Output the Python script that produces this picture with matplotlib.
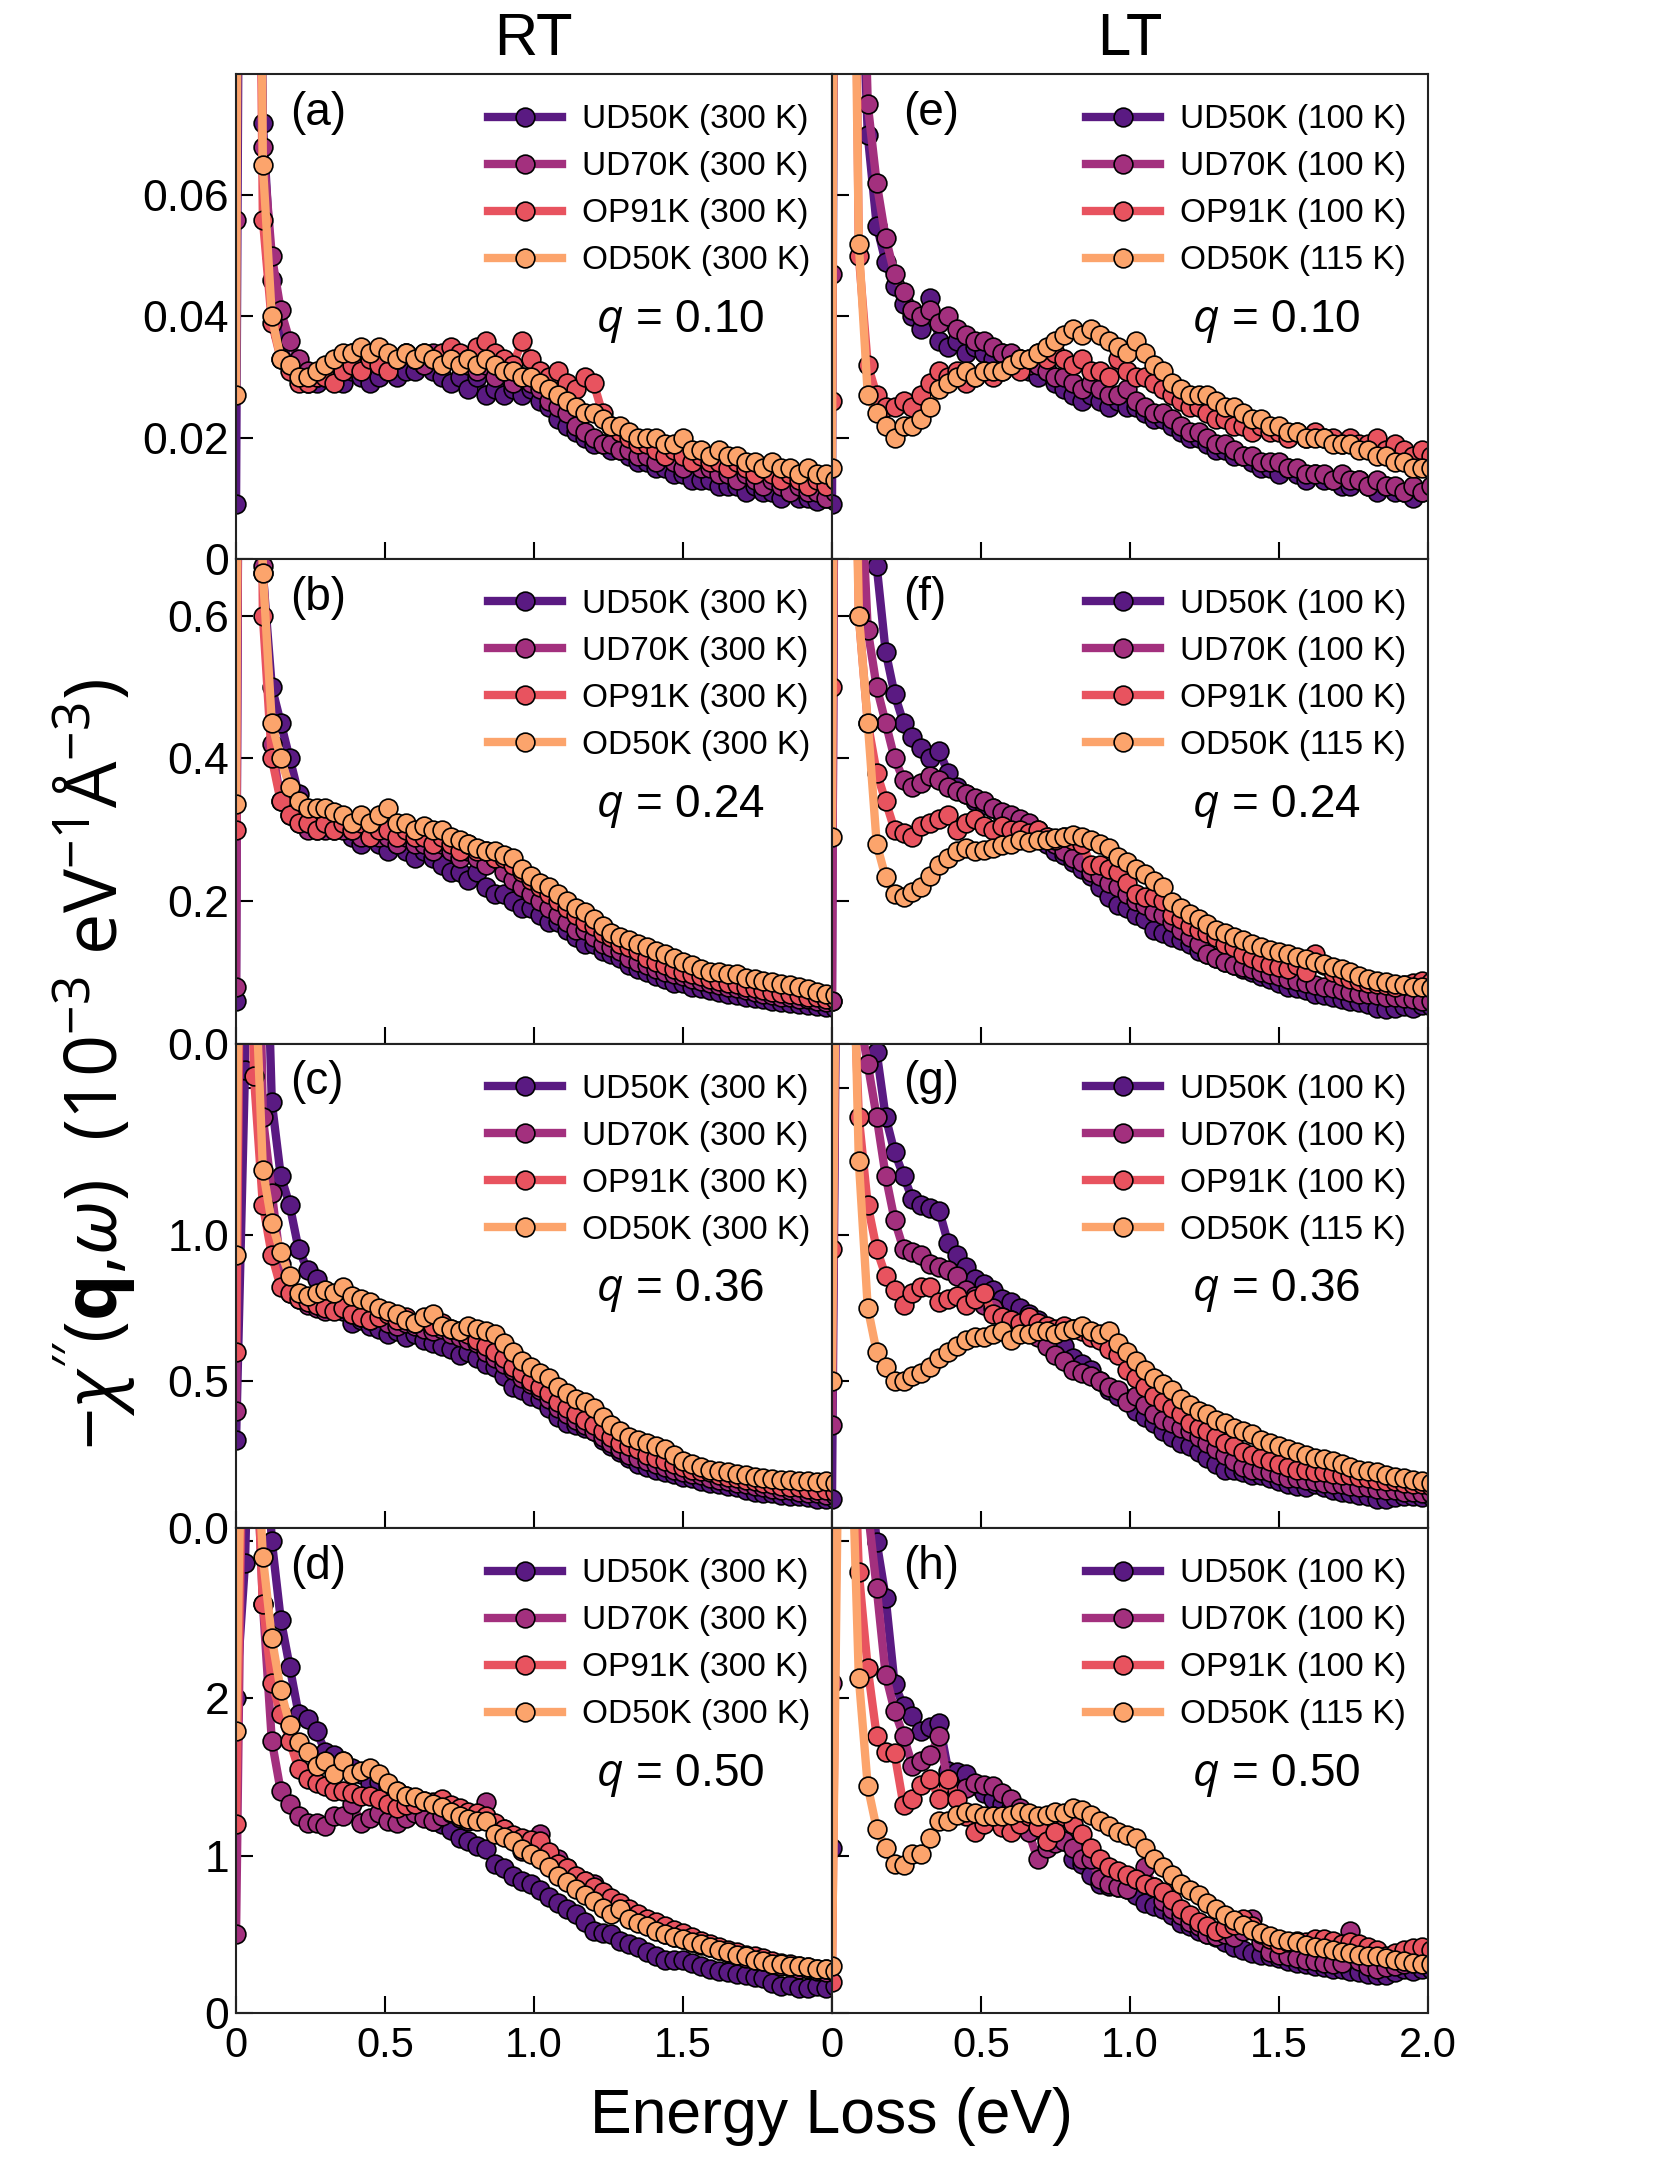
import matplotlib
matplotlib.use('Agg')
import matplotlib.pyplot as plt

plt.rcParams['font.family'] = ['Liberation Sans', 'DejaVu Sans']
plt.rcParams['mathtext.fontset'] = 'custom'
plt.rcParams['mathtext.rm'] = 'Open Sans'
plt.rcParams['mathtext.it'] = 'Open Sans:italic'
plt.rcParams['mathtext.bf'] = 'Open Sans:bold'

# energy loss grid (eV)
energy = [0.00, 0.03, 0.06, 0.09, 0.12, 0.15, 0.18, 0.21, 0.24, 0.27,
          0.30, 0.33, 0.36, 0.39, 0.42, 0.45, 0.48, 0.51, 0.54, 0.57,
          0.60, 0.63, 0.66, 0.69, 0.72, 0.75, 0.78, 0.81, 0.84, 0.87,
          0.90, 0.93, 0.96, 0.99, 1.02, 1.05, 1.08, 1.11, 1.14, 1.17,
          1.20, 1.23, 1.26, 1.29, 1.32, 1.35, 1.38, 1.41, 1.44, 1.47,
          1.50, 1.53, 1.56, 1.59, 1.62, 1.65, 1.68, 1.71, 1.74, 1.77,
          1.80, 1.83, 1.86, 1.89, 1.92, 1.95, 1.98, 2.01]

samples = ['UD50K', 'UD70K', 'OP91K', 'OD50K']
temps_rt = [300, 300, 300, 300]
temps_lt = [100, 100, 100, 115]
colors = ['#5a1a82', '#a3307e', '#e8535f', '#fca46c']
q_labels = ['0.10', '0.24', '0.36', '0.50']
letters_rt = ['a', 'b', 'c', 'd']
letters_lt = ['e', 'f', 'g', 'h']

# ---- q = 0.10 ----
ud50k_a = [0.009, 0.30, 0.20, 0.072, 0.046, 0.037, 0.032, 0.030, 0.029, 0.029,
           0.030, 0.031, 0.029, 0.031, 0.030, 0.029, 0.030, 0.031, 0.030, 0.031,
           0.031, 0.032, 0.031, 0.030, 0.029, 0.030, 0.028, 0.030, 0.027, 0.028,
           0.027, 0.028, 0.027, 0.028, 0.026, 0.025, 0.023, 0.022, 0.021, 0.020,
           0.019, 0.019, 0.018, 0.018, 0.017, 0.016, 0.016, 0.015, 0.015, 0.014,
           0.014, 0.013, 0.013, 0.013, 0.012, 0.012, 0.012, 0.011, 0.012, 0.011,
           0.011, 0.010, 0.011, 0.010, 0.010, 0.0095, 0.010, 0.0095]
ud70k_a = [0.056, 0.30, 0.20, 0.068, 0.050, 0.041, 0.036, 0.033, 0.031, 0.030,
           0.031, 0.032, 0.033, 0.034, 0.033, 0.034, 0.033, 0.032, 0.033, 0.034,
           0.033, 0.032, 0.034, 0.033, 0.034, 0.033, 0.032, 0.031, 0.032, 0.030,
           0.031, 0.029, 0.030, 0.029, 0.028, 0.026, 0.025, 0.024, 0.022, 0.021,
           0.020, 0.019, 0.019, 0.018, 0.018, 0.017, 0.017, 0.016, 0.017, 0.016,
           0.015, 0.016, 0.015, 0.015, 0.014, 0.014, 0.013, 0.014, 0.013, 0.012,
           0.013, 0.012, 0.011, 0.012, 0.011, 0.011, 0.010, 0.011]
op91k_a = [0.25, 0.45, 0.20, 0.056, 0.039, 0.033, 0.031, 0.029, 0.029, 0.030,
           0.030, 0.029, 0.031, 0.032, 0.031, 0.033, 0.032, 0.031, 0.033, 0.034,
           0.033, 0.034, 0.033, 0.034, 0.035, 0.034, 0.033, 0.035, 0.036, 0.034,
           0.033, 0.032, 0.036, 0.033, 0.031, 0.030, 0.031, 0.029, 0.028, 0.030,
           0.029, 0.024, 0.022, 0.021, 0.020, 0.019, 0.019, 0.018, 0.017, 0.018,
           0.017, 0.016, 0.017, 0.016, 0.016, 0.015, 0.016, 0.015, 0.014, 0.015,
           0.014, 0.013, 0.014, 0.013, 0.012, 0.013, 0.012, 0.013]
od50k_a = [0.027, 0.45, 0.25, 0.065, 0.040, 0.033, 0.032, 0.030, 0.030, 0.031,
           0.032, 0.033, 0.034, 0.034, 0.035, 0.034, 0.035, 0.034, 0.033, 0.034,
           0.033, 0.034, 0.033, 0.032, 0.033, 0.032, 0.033, 0.032, 0.033, 0.032,
           0.031, 0.031, 0.030, 0.030, 0.029, 0.028, 0.027, 0.026, 0.025, 0.024,
           0.024, 0.023, 0.022, 0.022, 0.021, 0.020, 0.020, 0.020, 0.019, 0.019,
           0.020, 0.018, 0.018, 0.017, 0.018, 0.017, 0.017, 0.016, 0.016, 0.015,
           0.016, 0.015, 0.015, 0.014, 0.015, 0.014, 0.014, 0.013]

ud50k_e = [0.009, 0.40, 0.25, 0.11, 0.070, 0.055, 0.049, 0.045, 0.042, 0.040,
           0.038, 0.043, 0.036, 0.035, 0.036, 0.034, 0.035, 0.034, 0.033, 0.034,
           0.032, 0.033, 0.031, 0.030, 0.031, 0.029, 0.028, 0.027, 0.026, 0.027,
           0.026, 0.025, 0.026, 0.025, 0.025, 0.024, 0.023, 0.023, 0.022, 0.021,
           0.020, 0.020, 0.019, 0.018, 0.018, 0.017, 0.017, 0.016, 0.015, 0.015,
           0.014, 0.015, 0.014, 0.013, 0.014, 0.013, 0.013, 0.012, 0.012, 0.013,
           0.012, 0.011, 0.012, 0.011, 0.011, 0.010, 0.011, 0.011]
ud70k_e = [0.047, 0.50, 0.30, 0.13, 0.075, 0.062, 0.053, 0.047, 0.044, 0.041,
           0.040, 0.041, 0.039, 0.040, 0.038, 0.037, 0.036, 0.036, 0.035, 0.034,
           0.034, 0.033, 0.032, 0.032, 0.031, 0.030, 0.030, 0.029, 0.028, 0.029,
           0.028, 0.027, 0.027, 0.028, 0.026, 0.025, 0.024, 0.024, 0.023, 0.022,
           0.021, 0.021, 0.020, 0.019, 0.019, 0.018, 0.017, 0.017, 0.016, 0.016,
           0.016, 0.015, 0.015, 0.014, 0.014, 0.014, 0.013, 0.014, 0.013, 0.013,
           0.012, 0.013, 0.012, 0.012, 0.011, 0.012, 0.011, 0.012]
op91k_e = [0.026, 0.40, 0.20, 0.050, 0.032, 0.027, 0.025, 0.025, 0.026, 0.025,
           0.027, 0.029, 0.031, 0.030, 0.031, 0.029, 0.030, 0.031, 0.030, 0.031,
           0.032, 0.031, 0.033, 0.034, 0.033, 0.034, 0.033, 0.032, 0.033, 0.031,
           0.031, 0.030, 0.033, 0.031, 0.030, 0.030, 0.029, 0.028, 0.027, 0.026,
           0.025, 0.025, 0.024, 0.023, 0.023, 0.022, 0.022, 0.021, 0.022, 0.021,
           0.021, 0.020, 0.021, 0.020, 0.021, 0.020, 0.020, 0.019, 0.020, 0.019,
           0.019, 0.020, 0.018, 0.019, 0.018, 0.017, 0.018, 0.017]
od50k_e = [0.015, 0.45, 0.16, 0.052, 0.027, 0.024, 0.022, 0.020, 0.022, 0.022,
           0.023, 0.025, 0.028, 0.029, 0.030, 0.031, 0.030, 0.031, 0.031, 0.031,
           0.032, 0.033, 0.033, 0.034, 0.035, 0.036, 0.037, 0.038, 0.037, 0.038,
           0.037, 0.036, 0.035, 0.034, 0.036, 0.034, 0.032, 0.031, 0.029, 0.028,
           0.027, 0.027, 0.027, 0.026, 0.025, 0.025, 0.024, 0.023, 0.023, 0.022,
           0.022, 0.021, 0.021, 0.020, 0.020, 0.020, 0.019, 0.019, 0.019, 0.018,
           0.018, 0.017, 0.017, 0.016, 0.016, 0.015, 0.015, 0.015]

# ---- q = 0.24 ----
ud50k_b = [0.06, 3.0, 2.0, 0.66, 0.50, 0.45, 0.40, 0.35, 0.32, 0.31,
           0.31, 0.30, 0.31, 0.29, 0.28, 0.29, 0.28, 0.27, 0.28, 0.27,
           0.26, 0.27, 0.26, 0.25, 0.24, 0.24, 0.23, 0.24, 0.22, 0.21,
           0.21, 0.20, 0.19, 0.19, 0.18, 0.17, 0.17, 0.16, 0.15, 0.14,
           0.14, 0.13, 0.125, 0.12, 0.11, 0.105, 0.10, 0.095, 0.09, 0.085,
           0.085, 0.08, 0.078, 0.075, 0.072, 0.07, 0.068, 0.066, 0.064, 0.062,
           0.06, 0.058, 0.057, 0.056, 0.054, 0.052, 0.051, 0.05]
ud70k_b = [0.08, 3.0, 2.0, 0.67, 0.42, 0.34, 0.32, 0.31, 0.30, 0.30,
           0.30, 0.31, 0.30, 0.30, 0.29, 0.30, 0.29, 0.29, 0.28, 0.29,
           0.28, 0.28, 0.27, 0.28, 0.27, 0.26, 0.27, 0.26, 0.25, 0.26,
           0.24, 0.23, 0.22, 0.21, 0.20, 0.19, 0.18, 0.17, 0.16, 0.16,
           0.15, 0.14, 0.135, 0.13, 0.12, 0.115, 0.11, 0.105, 0.10, 0.098,
           0.095, 0.09, 0.088, 0.085, 0.082, 0.08, 0.078, 0.075, 0.072, 0.07,
           0.068, 0.066, 0.065, 0.063, 0.062, 0.06, 0.059, 0.058]
op91k_b = [0.30, 3.0, 2.0, 0.60, 0.40, 0.34, 0.32, 0.31, 0.31, 0.30,
           0.31, 0.30, 0.31, 0.30, 0.31, 0.29, 0.30, 0.30, 0.29, 0.30,
           0.29, 0.29, 0.28, 0.29, 0.28, 0.27, 0.28, 0.27, 0.27, 0.26,
           0.26, 0.25, 0.24, 0.23, 0.22, 0.21, 0.20, 0.19, 0.18, 0.17,
           0.165, 0.155, 0.15, 0.14, 0.135, 0.13, 0.12, 0.115, 0.11, 0.105,
           0.10, 0.098, 0.095, 0.09, 0.088, 0.085, 0.083, 0.08, 0.078, 0.075,
           0.073, 0.071, 0.07, 0.068, 0.066, 0.065, 0.063, 0.062]
od50k_b = [0.336, 3.0, 2.0, 0.66, 0.45, 0.40, 0.36, 0.34, 0.33, 0.33,
           0.33, 0.325, 0.32, 0.31, 0.32, 0.31, 0.32, 0.33, 0.31, 0.31,
           0.30, 0.305, 0.30, 0.30, 0.29, 0.285, 0.28, 0.275, 0.27, 0.27,
           0.265, 0.26, 0.245, 0.235, 0.225, 0.22, 0.21, 0.20, 0.19, 0.185,
           0.175, 0.165, 0.155, 0.15, 0.145, 0.14, 0.135, 0.13, 0.125, 0.12,
           0.115, 0.11, 0.105, 0.10, 0.10, 0.098, 0.097, 0.092, 0.09, 0.088,
           0.086, 0.084, 0.082, 0.08, 0.076, 0.072, 0.07, 0.068]

ud50k_f = [0.06, 3.0, 2.5, 1.2, 0.85, 0.67, 0.55, 0.49, 0.45, 0.43,
           0.415, 0.40, 0.41, 0.38, 0.36, 0.35, 0.34, 0.335, 0.33, 0.32,
           0.31, 0.305, 0.30, 0.29, 0.28, 0.27, 0.265, 0.255, 0.245, 0.235,
           0.22, 0.205, 0.195, 0.19, 0.18, 0.175, 0.16, 0.155, 0.15, 0.145,
           0.14, 0.13, 0.125, 0.12, 0.115, 0.11, 0.105, 0.10, 0.095, 0.09,
           0.085, 0.08, 0.078, 0.075, 0.07, 0.068, 0.065, 0.062, 0.06, 0.058,
           0.055, 0.05, 0.048, 0.05, 0.052, 0.05, 0.054, 0.052]
ud70k_f = [0.06, 3.0, 2.0, 0.85, 0.58, 0.50, 0.45, 0.40, 0.37, 0.36,
           0.365, 0.375, 0.37, 0.36, 0.355, 0.35, 0.345, 0.34, 0.33, 0.325,
           0.32, 0.315, 0.31, 0.30, 0.29, 0.28, 0.27, 0.26, 0.255, 0.24,
           0.235, 0.225, 0.22, 0.21, 0.20, 0.195, 0.185, 0.18, 0.17, 0.16,
           0.15, 0.14, 0.125, 0.12, 0.115, 0.11, 0.108, 0.105, 0.10, 0.098,
           0.095, 0.09, 0.088, 0.085, 0.082, 0.08, 0.078, 0.075, 0.072, 0.07,
           0.07, 0.068, 0.066, 0.065, 0.064, 0.062, 0.06, 0.06]
op91k_f = [0.50, 3.0, 1.5, 0.60, 0.45, 0.38, 0.34, 0.30, 0.295, 0.29,
           0.305, 0.31, 0.315, 0.32, 0.30, 0.31, 0.315, 0.305, 0.30, 0.305,
           0.30, 0.30, 0.295, 0.30, 0.29, 0.285, 0.29, 0.285, 0.28, 0.25,
           0.25, 0.245, 0.24, 0.225, 0.21, 0.205, 0.205, 0.20, 0.18, 0.175,
           0.165, 0.16, 0.155, 0.15, 0.14, 0.135, 0.125, 0.12, 0.115, 0.11,
           0.107, 0.105, 0.11, 0.10, 0.125, 0.11, 0.10, 0.095, 0.09, 0.088,
           0.085, 0.084, 0.082, 0.08, 0.082, 0.085, 0.088, 0.086]
od50k_f = [0.29, 3.0, 1.2, 0.60, 0.45, 0.28, 0.233, 0.21, 0.205, 0.212,
           0.22, 0.235, 0.25, 0.26, 0.27, 0.275, 0.27, 0.272, 0.275, 0.278,
           0.28, 0.285, 0.283, 0.285, 0.285, 0.288, 0.29, 0.292, 0.29, 0.286,
           0.28, 0.275, 0.262, 0.255, 0.245, 0.238, 0.228, 0.22, 0.198, 0.19,
           0.182, 0.175, 0.168, 0.16, 0.155, 0.15, 0.145, 0.14, 0.135, 0.131,
           0.128, 0.125, 0.121, 0.118, 0.115, 0.112, 0.108, 0.105, 0.10, 0.095,
           0.09, 0.088, 0.086, 0.084, 0.082, 0.08, 0.079, 0.078]

# ---- q = 0.36 ----
ud50k_c = [0.30, 1.56, 4.0, 2.5, 1.45, 1.20, 1.10, 0.95, 0.88, 0.85,
           0.80, 0.76, 0.74, 0.70, 0.71, 0.69, 0.68, 0.66, 0.67, 0.65,
           0.66, 0.64, 0.63, 0.62, 0.61, 0.59, 0.60, 0.58, 0.56, 0.55,
           0.52, 0.48, 0.47, 0.45, 0.44, 0.41, 0.38, 0.36, 0.35, 0.34,
           0.33, 0.30, 0.28, 0.26, 0.24, 0.22, 0.21, 0.20, 0.19, 0.185,
           0.175, 0.17, 0.16, 0.155, 0.15, 0.145, 0.14, 0.13, 0.125, 0.12,
           0.12, 0.115, 0.11, 0.11, 0.105, 0.10, 0.10, 0.098]
ud70k_c = [0.40, 4.0, 3.0, 1.40, 1.14, 0.90, 0.80, 0.78, 0.76, 0.75,
           0.74, 0.76, 0.75, 0.73, 0.72, 0.71, 0.72, 0.70, 0.69, 0.70,
           0.69, 0.68, 0.67, 0.68, 0.66, 0.65, 0.64, 0.63, 0.60, 0.58,
           0.56, 0.54, 0.51, 0.49, 0.47, 0.44, 0.41, 0.39, 0.37, 0.35,
           0.33, 0.31, 0.29, 0.27, 0.25, 0.24, 0.23, 0.22, 0.21, 0.20,
           0.19, 0.185, 0.18, 0.17, 0.165, 0.16, 0.155, 0.15, 0.145, 0.14,
           0.135, 0.13, 0.13, 0.125, 0.12, 0.12, 0.115, 0.115]
op91k_c = [0.60, 4.0, 1.54, 1.10, 0.93, 0.82, 0.80, 0.78, 0.77, 0.76,
           0.75, 0.74, 0.75, 0.73, 0.72, 0.71, 0.72, 0.73, 0.71, 0.72,
           0.70, 0.71, 0.69, 0.70, 0.68, 0.67, 0.66, 0.64, 0.62, 0.60,
           0.58, 0.55, 0.53, 0.50, 0.48, 0.46, 0.43, 0.41, 0.39, 0.37,
           0.35, 0.33, 0.31, 0.29, 0.28, 0.27, 0.25, 0.24, 0.23, 0.22,
           0.21, 0.20, 0.195, 0.19, 0.18, 0.175, 0.17, 0.165, 0.16, 0.155,
           0.15, 0.145, 0.14, 0.14, 0.135, 0.13, 0.13, 0.125]
od50k_c = [0.93, 4.0, 2.0, 1.22, 1.04, 0.94, 0.86, 0.80, 0.79, 0.80,
           0.81, 0.80, 0.82, 0.79, 0.78, 0.77, 0.75, 0.74, 0.73, 0.71,
           0.70, 0.72, 0.73, 0.69, 0.68, 0.67, 0.69, 0.68, 0.67, 0.66,
           0.63, 0.60, 0.57, 0.55, 0.53, 0.51, 0.48, 0.46, 0.44, 0.43,
           0.41, 0.38, 0.35, 0.33, 0.31, 0.30, 0.29, 0.28, 0.27, 0.25,
           0.23, 0.22, 0.21, 0.20, 0.195, 0.19, 0.185, 0.18, 0.175, 0.17,
           0.168, 0.165, 0.163, 0.162, 0.16, 0.158, 0.16, 0.155]

ud50k_g = [0.10, 4.0, 3.0, 2.3, 1.90, 1.62, 1.40, 1.28, 1.20, 1.12,
           1.10, 1.09, 1.08, 0.97, 0.93, 0.89, 0.85, 0.83, 0.81, 0.78,
           0.77, 0.75, 0.73, 0.71, 0.68, 0.64, 0.62, 0.58, 0.56, 0.54,
           0.50, 0.47, 0.45, 0.44, 0.40, 0.38, 0.36, 0.33, 0.31, 0.29,
           0.28, 0.26, 0.24, 0.22, 0.20, 0.20, 0.19, 0.18, 0.18, 0.17,
           0.16, 0.15, 0.145, 0.14, 0.15, 0.14, 0.13, 0.125, 0.12, 0.115,
           0.11, 0.10, 0.10, 0.105, 0.11, 0.11, 0.105, 0.11]
ud70k_g = [0.35, 4.0, 2.5, 1.75, 1.58, 1.40, 1.20, 1.05, 0.95, 0.94,
           0.93, 0.90, 0.89, 0.88, 0.86, 0.81, 0.79, 0.76, 0.75, 0.72,
           0.71, 0.69, 0.67, 0.65, 0.62, 0.59, 0.57, 0.54, 0.53, 0.52,
           0.50, 0.48, 0.47, 0.43, 0.45, 0.42, 0.39, 0.37, 0.36, 0.34,
           0.33, 0.31, 0.29, 0.27, 0.25, 0.23, 0.21, 0.20, 0.20, 0.19,
           0.18, 0.17, 0.17, 0.165, 0.16, 0.155, 0.15, 0.15, 0.145, 0.14,
           0.14, 0.135, 0.13, 0.13, 0.125, 0.125, 0.12, 0.12]
op91k_g = [0.95, 4.0, 2.2, 1.40, 1.10, 0.95, 0.86, 0.81, 0.76, 0.80,
           0.82, 0.82, 0.77, 0.78, 0.79, 0.76, 0.78, 0.80, 0.73, 0.72,
           0.71, 0.70, 0.72, 0.70, 0.69, 0.68, 0.69, 0.68, 0.67, 0.65,
           0.64, 0.61, 0.59, 0.54, 0.51, 0.48, 0.45, 0.43, 0.41, 0.39,
           0.36, 0.34, 0.33, 0.31, 0.29, 0.28, 0.26, 0.25, 0.24, 0.23,
           0.22, 0.21, 0.20, 0.20, 0.19, 0.19, 0.185, 0.18, 0.18, 0.175,
           0.17, 0.165, 0.16, 0.16, 0.155, 0.15, 0.15, 0.145]
od50k_g = [0.50, 4.0, 2.5, 1.25, 0.75, 0.60, 0.55, 0.50, 0.50, 0.52,
           0.53, 0.55, 0.58, 0.60, 0.62, 0.64, 0.65, 0.65, 0.66, 0.67,
           0.64, 0.66, 0.66, 0.67, 0.67, 0.66, 0.67, 0.68, 0.69, 0.67,
           0.66, 0.67, 0.63, 0.60, 0.57, 0.54, 0.51, 0.49, 0.47, 0.44,
           0.42, 0.40, 0.39, 0.37, 0.36, 0.34, 0.33, 0.32, 0.30, 0.29,
           0.28, 0.27, 0.26, 0.25, 0.24, 0.235, 0.23, 0.22, 0.21, 0.20,
           0.195, 0.19, 0.18, 0.175, 0.17, 0.165, 0.16, 0.155]

# ---- q = 0.50 ----
ud50k_d = [2.0, 2.86, 5.0, 4.0, 3.0, 2.50, 2.20, 1.90, 1.87, 1.79,
           1.66, 1.64, 1.60, 1.56, 1.52, 1.46, 1.47, 1.44, 1.41, 1.38,
           1.33, 1.30, 1.22, 1.20, 1.16, 1.11, 1.09, 1.06, 1.04, 0.95,
           0.92, 0.87, 0.84, 0.82, 0.78, 0.74, 0.70, 0.66, 0.63, 0.58,
           0.52, 0.51, 0.50, 0.46, 0.44, 0.42, 0.39, 0.36, 0.34, 0.34,
           0.34, 0.32, 0.30, 0.28, 0.27, 0.26, 0.25, 0.24, 0.23, 0.22,
           0.19, 0.17, 0.18, 0.16, 0.16, 0.17, 0.16, 0.17]
ud70k_d = [0.5, 5.0, 4.0, 2.6, 1.73, 1.41, 1.33, 1.25, 1.21, 1.21,
           1.19, 1.25, 1.25, 1.33, 1.21, 1.24, 1.27, 1.22, 1.21, 1.24,
           1.27, 1.24, 1.22, 1.25, 1.27, 1.24, 1.22, 1.25, 1.34, 1.20,
           1.17, 1.10, 1.03, 1.06, 1.14, 1.00, 0.98, 0.92, 0.85, 0.84,
           0.82, 0.76, 0.70, 0.66, 0.63, 0.60, 0.56, 0.53, 0.50, 0.48,
           0.47, 0.45, 0.43, 0.42, 0.40, 0.38, 0.37, 0.35, 0.34, 0.33,
           0.31, 0.30, 0.29, 0.28, 0.28, 0.27, 0.26, 0.26]
op91k_d = [1.2, 5.0, 4.0, 2.6, 2.10, 1.90, 1.73, 1.55, 1.49, 1.46,
           1.44, 1.41, 1.41, 1.40, 1.38, 1.38, 1.36, 1.33, 1.30, 1.32,
           1.33, 1.35, 1.34, 1.36, 1.32, 1.30, 1.28, 1.27, 1.25, 1.21,
           1.17, 1.13, 1.11, 1.10, 1.09, 1.02, 0.95, 0.92, 0.87, 0.84,
           0.80, 0.77, 0.73, 0.70, 0.66, 0.63, 0.60, 0.58, 0.55, 0.53,
           0.51, 0.48, 0.46, 0.44, 0.42, 0.40, 0.39, 0.37, 0.36, 0.35,
           0.33, 0.32, 0.31, 0.30, 0.29, 0.28, 0.28, 0.27]
od50k_d = [1.79, 5.0, 4.0, 2.9, 2.38, 2.05, 1.83, 1.72, 1.66, 1.57,
           1.60, 1.52, 1.60, 1.52, 1.54, 1.56, 1.52, 1.46, 1.41, 1.38,
           1.37, 1.35, 1.33, 1.31, 1.28, 1.25, 1.23, 1.22, 1.22, 1.14,
           1.12, 1.09, 1.04, 1.01, 0.98, 0.93, 0.87, 0.83, 0.79, 0.75,
           0.71, 0.67, 0.63, 0.66, 0.60, 0.57, 0.55, 0.52, 0.50, 0.48,
           0.47, 0.45, 0.44, 0.42, 0.40, 0.39, 0.37, 0.36, 0.34, 0.33,
           0.31, 0.31, 0.30, 0.30, 0.29, 0.28, 0.28, 0.27]

ud50k_h = [1.05, 6.0, 5.0, 4.5, 3.6, 2.99, 2.64, 2.09, 1.95, 1.89,
           1.79, 1.82, 1.84, 1.54, 1.53, 1.52, 1.45, 1.40, 1.36, 1.33,
           1.30, 1.26, 1.22, 1.19, 1.12, 1.09, 1.09, 0.98, 0.95, 0.88,
           0.82, 0.81, 0.80, 0.79, 0.75, 0.70, 0.68, 0.66, 0.62, 0.57,
           0.55, 0.52, 0.50, 0.48, 0.45, 0.42, 0.40, 0.38, 0.37, 0.36,
           0.35, 0.33, 0.32, 0.31, 0.30, 0.29, 0.28, 0.28, 0.27, 0.26,
           0.25, 0.24, 0.24, 0.26, 0.28, 0.27, 0.28, 0.28]
ud70k_h = [2.1, 6.0, 5.0, 4.0, 3.2, 2.70, 2.15, 1.92, 1.76, 1.57,
           1.60, 1.64, 1.76, 1.46, 1.41, 1.43, 1.46, 1.45, 1.44, 1.40,
           1.36, 1.30, 1.15, 0.98, 1.05, 1.08, 1.09, 1.05, 0.98, 0.98,
           0.85, 0.82, 0.80, 0.79, 0.85, 0.93, 0.80, 0.71, 0.66, 0.62,
           0.58, 0.55, 0.50, 0.49, 0.50, 0.48, 0.52, 0.60, 0.45, 0.39,
           0.37, 0.36, 0.35, 0.34, 0.33, 0.32, 0.31, 0.32, 0.52, 0.33,
           0.30, 0.28, 0.29, 0.30, 0.31, 0.32, 0.34, 0.34]
op91k_h = [0.20, 6.0, 4.5, 2.8, 2.19, 1.76, 1.66, 1.65, 1.32, 1.36,
           1.45, 1.49, 1.36, 1.49, 1.36, 1.25, 1.15, 1.20, 1.25, 1.18,
           1.15, 1.20, 1.25, 1.18, 1.09, 1.15, 1.25, 1.20, 1.14, 1.05,
           0.98, 0.93, 0.90, 0.88, 0.85, 0.82, 0.80, 0.77, 0.72, 0.66,
           0.62, 0.58, 0.55, 0.52, 0.54, 0.56, 0.60, 0.55, 0.50, 0.47,
           0.44, 0.45, 0.46, 0.45, 0.47, 0.47, 0.46, 0.44, 0.45, 0.44,
           0.42, 0.40, 0.36, 0.38, 0.40, 0.41, 0.42, 0.40]
od50k_h = [0.30, 5.0, 4.0, 2.13, 1.44, 1.17, 1.05, 0.95, 0.94, 1.01,
           1.01, 1.11, 1.22, 1.22, 1.26, 1.28, 1.27, 1.25, 1.25, 1.25,
           1.26, 1.28, 1.27, 1.25, 1.26, 1.28, 1.27, 1.30, 1.29, 1.26,
           1.22, 1.19, 1.15, 1.13, 1.11, 1.05, 0.98, 0.93, 0.88, 0.82,
           0.78, 0.75, 0.70, 0.66, 0.62, 0.59, 0.56, 0.53, 0.51, 0.49,
           0.47, 0.46, 0.45, 0.43, 0.42, 0.41, 0.40, 0.39, 0.38, 0.37,
           0.36, 0.36, 0.35, 0.34, 0.33, 0.32, 0.31, 0.31]

panels = [
    [[ud50k_a, ud70k_a, op91k_a, od50k_a], [ud50k_e, ud70k_e, op91k_e, od50k_e]],
    [[ud50k_b, ud70k_b, op91k_b, od50k_b], [ud50k_f, ud70k_f, op91k_f, od50k_f]],
    [[ud50k_c, ud70k_c, op91k_c, od50k_c], [ud50k_g, ud70k_g, op91k_g, od50k_g]],
    [[ud50k_d, ud70k_d, op91k_d, od50k_d], [ud50k_h, ud70k_h, op91k_h, od50k_h]],
]

y_top = [0.08, 0.68, 1.65, 3.08]
y_ticks = [[0, 0.02, 0.04, 0.06], [0, 0.2, 0.4, 0.6], [0, 0.5, 1.0, 1.5], [0, 1, 2, 3]]
y_ticklabels = [['0', '0.02', '0.04', '0.06'], ['0.0', '0.2', '0.4', '0.6'],
                ['0.0', '0.5', '1.0', ''], ['0', '1', '2', '']]
x_ticks = [0, 0.5, 1.0, 1.5, 2.0]

fig, axes = plt.subplots(4, 2, figsize=(16.67, 21.8), dpi=100)
fig.subplots_adjust(left=0.1416, right=0.8566, bottom=0.0766, top=0.966,
                    wspace=0, hspace=0)

for r in range(4):
    for c in range(2):
        ax = axes[r, c]
        temps = temps_rt if c == 0 else temps_lt
        for s, vals in enumerate(panels[r][c]):
            ax.plot(energy, vals, '-o', color=colors[s], lw=6, ms=13.5,
                    mec='black', mew=1.2,
                    label='%s (%d K)' % (samples[s], temps[s]))
        ax.set_xlim(0, 2.0)
        ax.set_ylim(0, y_top[r])
        ax.set_xticks(x_ticks)
        ax.set_yticks(y_ticks[r])
        ax.tick_params(direction='in', length=12, width=1.5, top=False,
                       right=False)
        ax.tick_params(axis='x', labelsize=30, pad=9)
        ax.tick_params(axis='y', labelsize=32, pad=5)
        if c == 0:
            ax.set_yticklabels(y_ticklabels[r])
        else:
            ax.tick_params(labelleft=False)
        if r == 3:
            if c == 0:
                ax.set_xticklabels(['0', '0.5', '1.0', '1.5', ''])
            else:
                ax.set_xticklabels(['0', '0.5', '1.0', '1.5', '2.0'])
        else:
            ax.tick_params(labelbottom=False)
        for sp in ax.spines.values():
            sp.set_linewidth(1.5)
            sp.set_color('#222222')

        ax.legend(loc='upper right', bbox_to_anchor=(0.963, 0.938),
                  frameon=False, fontsize=24, handlelength=2.2,
                  handletextpad=0.6, labelspacing=0.48, borderaxespad=0,
                  borderpad=0, numpoints=1)

        letter = letters_rt[r] if c == 0 else letters_lt[r]
        ax.text(0.09 if c == 0 else 0.12, 0.92, '(%s)' % letter,
                transform=ax.transAxes, fontsize=33, ha='left', va='center')
        ax.text(0.745, 0.49, '$q$ = ' + q_labels[r], transform=ax.transAxes,
                fontsize=33, ha='center', va='center')

fig.text(0.3198, 0.982, 'RT', fontsize=43, ha='center', va='center')
fig.text(0.6776, 0.982, 'LT', fontsize=43, ha='center', va='center')
fig.text(0.4985, 0.029, 'Energy Loss (eV)', fontsize=45, ha='center', va='center')
fig.text(0.057, 0.512,
         r'$-\chi^{\prime\prime}$($\mathbf{q}$,$\omega$)  (10$^{-3}$ eV$^{-1}$Å$^{-3}$)',
         family=['Open Sans', 'DejaVu Sans'], rotation=90, fontsize=53,
         ha='center', va='center')

fig.savefig('out.png', dpi=100)
